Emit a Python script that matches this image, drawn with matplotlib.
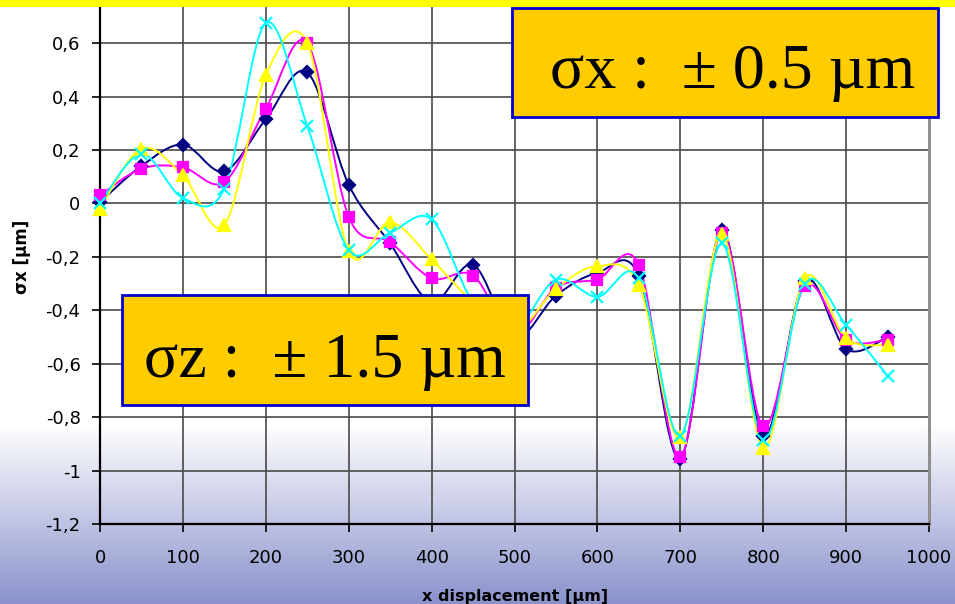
import numpy as np
import matplotlib
matplotlib.use("Agg")
import matplotlib.pyplot as plt
from matplotlib.path import Path
from matplotlib.patches import PathPatch, Rectangle

# x positions of the measurements [um]
x_pos = [0, 50, 100, 150, 200, 250, 300, 350, 400, 450,
         500, 550, 600, 650, 700, 750, 800, 850, 900, 950]

# sigma x [um] for the four runs
run_navy = [0.005, 0.14, 0.22, 0.12, 0.315, 0.49, 0.07, -0.15, -0.37, -0.23,
            -0.50, -0.345, -0.26, -0.27, -0.955, -0.10, -0.87, -0.29, -0.545, -0.50]
run_magenta = [0.03, 0.13, 0.135, 0.08, 0.355, 0.60, -0.05, -0.145, -0.28, -0.27,
               -0.49, -0.315, -0.285, -0.23, -0.95, -0.11, -0.835, -0.31, -0.51, -0.51]
run_yellow = [-0.02, 0.205, 0.105, -0.08, 0.48, 0.60, -0.18, -0.07, -0.21, -0.37,
              -0.48, -0.32, -0.235, -0.305, -0.875, -0.115, -0.915, -0.28, -0.505, -0.53]
run_cyan = [0.0, 0.185, 0.02, 0.055, 0.675, 0.29, -0.175, -0.11, -0.06, -0.37,
            -0.47, -0.285, -0.35, -0.28, -0.87, -0.15, -0.885, -0.30, -0.455, -0.645]

x_ticks = [0, 100, 200, 300, 400, 500, 600, 700, 800, 900, 1000]
y_ticks = [-1.2, -1.0, -0.8, -0.6, -0.4, -0.2, 0.0, 0.2, 0.4, 0.6]
y_tick_labels = ["-1,2", "-1", "-0,8", "-0,6", "-0,4", "-0,2", "0", "0,2", "0,4", "0,6"]


def smooth_path(xs, ys):
    # excel style smoothed line: catmull-rom as cubic bezier
    pts = np.column_stack([xs, ys]).astype(float)
    n = len(pts)
    verts = [pts[0]]
    codes = [Path.MOVETO]
    for i in range(n - 1):
        p0 = pts[max(i - 1, 0)]
        p1 = pts[i]
        p2 = pts[i + 1]
        p3 = pts[min(i + 2, n - 1)]
        verts += [p1 + (p2 - p0) / 6, p2 - (p3 - p1) / 6, p2]
        codes += [Path.CURVE4] * 3
    return Path(verts, codes)


fig = plt.figure(figsize=(9.55, 6.04), dpi=100)

# background: white fading to lavender at the bottom
bg = fig.add_axes([0, 0, 1, 1], zorder=-10)
h = 604
grad = np.ones((h, 1, 3))
top_col = np.array([1.0, 1.0, 1.0])
bot_col = np.array([0.54, 0.57, 0.80])
for r in range(h):
    if r > 425:
        t = (r - 425) / (h - 425)
        grad[r, 0] = top_col + (bot_col - top_col) * t
bg.imshow(grad, aspect="auto", extent=[0, 1, 0, 1], origin="upper")
bg.axis("off")

ax = fig.add_axes([100 / 955, 1 - 524 / 604, 829 / 955, 517 / 604])
ax.set_facecolor("none")
ax.set_xlim(0, 1000)
ax.set_ylim(-1.2, 0.735)

series = [
    (run_navy, "#000080", "D", 6),
    (run_magenta, "#ff00ff", "s", 7),
    (run_yellow, "#ffff00", "^", 8),
    (run_cyan, "#00ffff", "x", 8),
]
for vals, col, mk, ms in series:
    ax.add_patch(PathPatch(smooth_path(x_pos, vals), facecolor="none",
                           edgecolor=col, lw=1.4, zorder=3))
    ax.plot(x_pos, vals, linestyle="none", marker=mk, color=col,
            markersize=ms, markeredgewidth=1.6, zorder=4, clip_on=False)

ax.set_xticks(x_ticks)
ax.set_xticklabels([str(v) for v in x_ticks])
ax.set_yticks(y_ticks)
ax.set_yticklabels(y_tick_labels)
ax.grid(True, color="#4a4a4a", lw=1.2)
ax.set_axisbelow(True)
ax.tick_params(axis="both", labelsize=13, colors="black", length=6, width=1.2)
ax.tick_params(axis="x", pad=12)
ax.tick_params(axis="y", pad=8)

for s in ["left", "bottom"]:
    ax.spines[s].set_color("black")
    ax.spines[s].set_linewidth(1.6)
ax.spines["right"].set_color("#909090")
ax.spines["right"].set_linewidth(2.2)
ax.spines["top"].set_visible(False)

fig.text(22 / 955, 1 - 257 / 604, "σx [µm]", rotation=90, ha="center",
         va="center", fontsize=12, fontweight="bold")
fig.text(515 / 955, 3 / 604, "x displacement [µm]", ha="center",
         va="baseline", fontsize=11.5, fontweight="bold")

# yellow strip at the top
fig.add_artist(Rectangle((0, 1 - 7 / 604), 1, 7 / 604, transform=fig.transFigure,
                         facecolor="#ffff00", edgecolor="none", zorder=5))

# annotation boxes
boxes = [
    (512, 8, 426, 109, "σx :  ± 0.5 µm", 733, 88),
    (122, 295, 406, 110, "σz :  ± 1.5 µm", 325, 377),
]
for bx, by, bw, bh, txt, tx, ty in boxes:
    fig.add_artist(Rectangle((bx / 955, 1 - (by + bh) / 604), bw / 955, bh / 604,
                             transform=fig.transFigure, facecolor="#ffcc00",
                             edgecolor="#0000cc", lw=2, zorder=6))
    t = fig.text(tx / 955, 1 - ty / 604, txt, ha="center", va="baseline",
                 fontsize=46, family="Liberation Serif", color="black")
    t.set_zorder(7)

fig.savefig("out.png", dpi=100)
